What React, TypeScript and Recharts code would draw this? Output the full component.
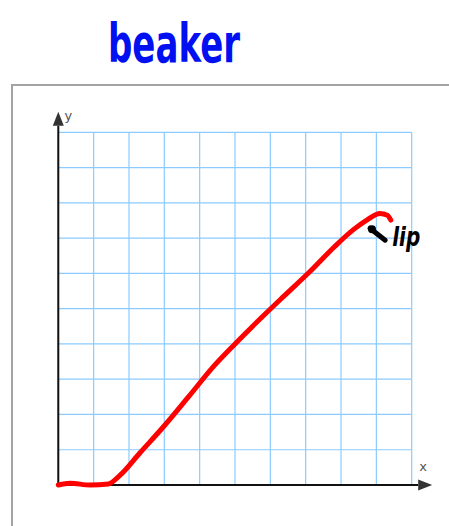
import React from "react"
import { LineChart, Line, XAxis, YAxis, CartesianGrid, ReferenceLine } from "recharts"

// hand-drawn "beaker" profile (grid units)
const xVals = [0, 0.33, 0.9, 1.42, 1.75, 2.3, 3.0, 3.7, 4.4, 5.0, 5.7, 6.4, 7.1, 7.8, 8.35, 8.73, 9.1, 9.31, 9.41]
const yVals = [0, 0.05, 0, 0.03, 0.28, 0.9, 1.68, 2.52, 3.37, 4.0, 4.7, 5.37, 6.03, 6.74, 7.24, 7.51, 7.7, 7.65, 7.51]
const gridTicks = [0, 1, 2, 3, 4, 5, 6, 7, 8, 9, 10]

const title = "beaker"
const xLabel = "x"
const yLabel = "y"
const noteText = "lip"

// axis arrows and the pointer to the lip, in grid units
const axisEnd = 10.58
const pointerFrom = { x: 8.82, y: 7.28 }
const pointerTo = { x: 9.25, y: 6.94 }

const data = xVals.map((x, i) => ({ x, y: yVals[i] }))

const makeArrow = (label: string, dx: number, dy: number) => (props: any) => {
  const { x1, y1, x2, y2 } = props
  const len = Math.hypot(x2 - x1, y2 - y1) || 1
  const ux = (x2 - x1) / len
  const uy = (y2 - y1) / len
  const bx = x2 - ux * 14
  const by = y2 - uy * 14
  const px = -uy * 5.5
  const py = ux * 5.5
  return (
    <g>
      <line x1={x1} y1={y1} x2={bx} y2={by} stroke="#111" strokeWidth={2} />
      <polygon points={`${x2},${y2} ${bx + px},${by + py} ${bx - px},${by - py}`} fill="#333" />
      <text x={x2 + dx} y={y2 + dy} fontFamily="DejaVu Sans, sans-serif" fontSize={13} fill="#555" textAnchor="middle">
        {label}
      </text>
    </g>
  )
}

const pointerShape = (props: any) => {
  const { x1, y1, x2, y2 } = props
  return (
    <g>
      <line x1={x1} y1={y1} x2={x2} y2={y2} stroke="#000" strokeWidth={5} strokeLinecap="round" />
      <circle cx={x1 + 2} cy={y1 + 1} r={4} fill="#000" />
      <text
        x={x2 + 7}
        y={y2 + 6}
        fontFamily="DejaVu Sans Condensed, DejaVu Sans, sans-serif"
        fontWeight="bold"
        fontStyle="italic"
        fontSize={27}
        textLength={28}
        lengthAdjust="spacingAndGlyphs"
        fill="#000"
      >
        {noteText}
      </text>
    </g>
  )
}

export default function App() {
  return (
    <div style={{ position: "absolute", left: 0, top: 0, width: 449, height: 526, overflow: "hidden", background: "#fff" }}>
      <svg width={449} height={80} style={{ position: "absolute", left: 0, top: 0 }}>
        <text
          x={108}
          y={62}
          textLength={132}
          lengthAdjust="spacingAndGlyphs"
          fontFamily="DejaVu Sans, sans-serif"
          fontWeight="bold"
          fontSize={54}
          fill="#0010f0"
        >
          {title}
        </text>
      </svg>
      <div style={{ position: "absolute", left: 11, top: 84, width: 500, height: 500, border: "2px solid #a3a3a3" }} />
      <div style={{ position: "absolute", left: 0, top: 0 }}>
        <LineChart width={449} height={526} data={data} margin={{ top: 132.3, left: 58.3, right: 37.3, bottom: 41 }}>
          <CartesianGrid stroke="#8ccbff" strokeWidth={1.2} />
          <XAxis dataKey="x" type="number" domain={[0, 10]} ticks={gridTicks} hide />
          <YAxis type="number" domain={[0, 10]} ticks={gridTicks} hide />
          <ReferenceLine
            segment={[{ x: 0, y: 0 }, { x: axisEnd, y: 0 }]}
            ifOverflow="visible"
            shape={makeArrow(xLabel, -9, -14)}
          />
          <ReferenceLine
            segment={[{ x: 0, y: 0 }, { x: 0, y: axisEnd }]}
            ifOverflow="visible"
            shape={makeArrow(yLabel, 10, 8)}
          />
          <Line
            dataKey="y"
            type="monotone"
            stroke="#ff0000"
            strokeWidth={5}
            strokeLinecap="round"
            strokeLinejoin="round"
            dot={false}
            isAnimationActive={false}
          />
          <ReferenceLine
            segment={[pointerFrom, pointerTo]}
            ifOverflow="visible"
            shape={pointerShape}
          />
        </LineChart>
      </div>
    </div>
  )
}
